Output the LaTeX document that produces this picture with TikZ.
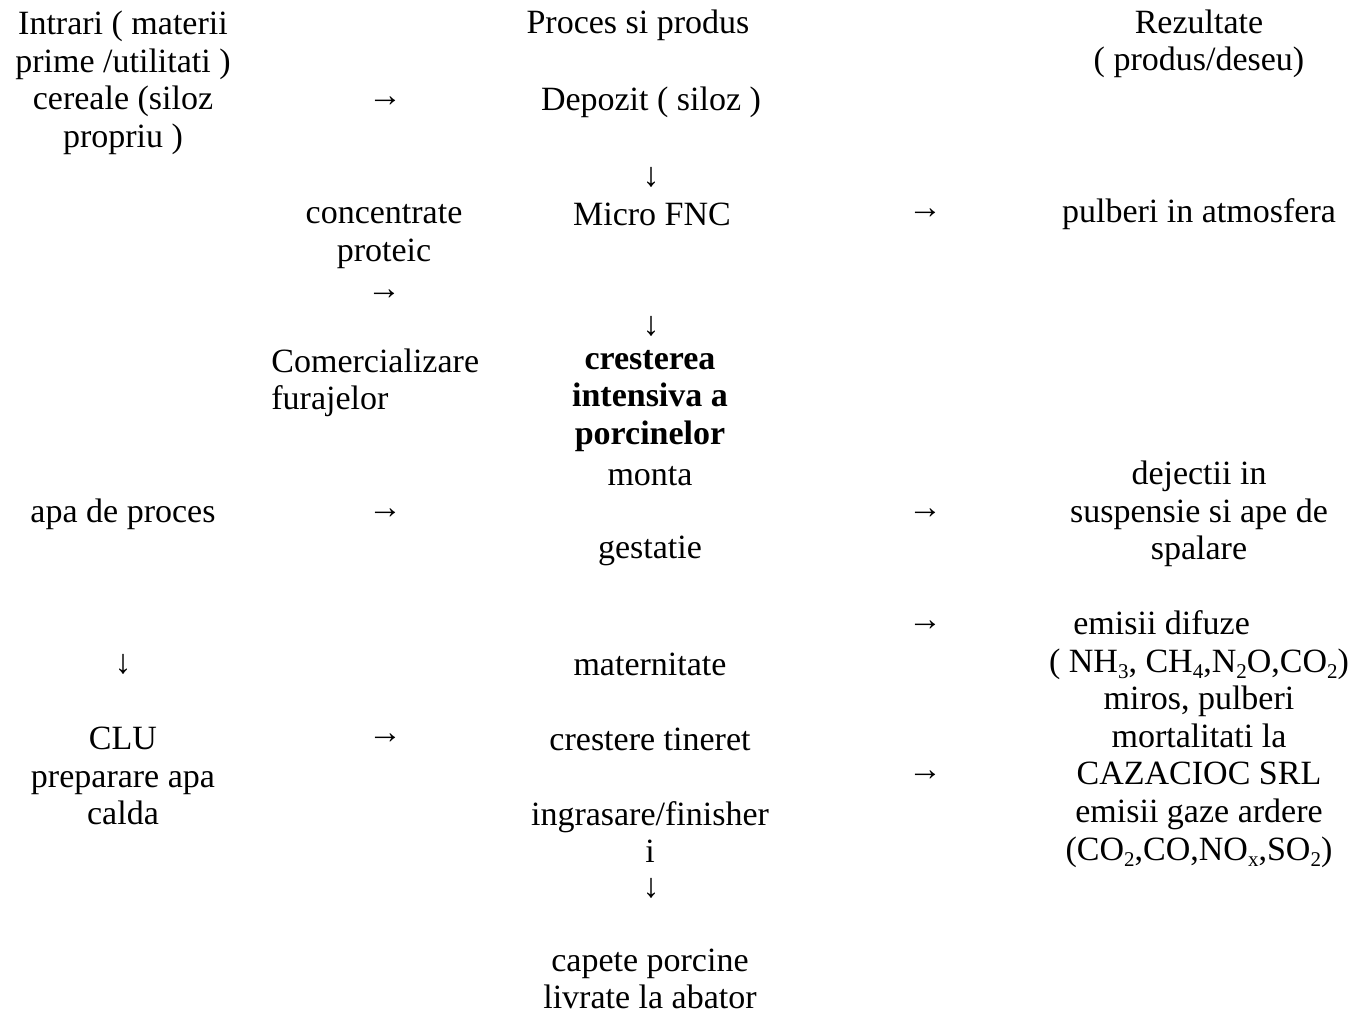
\documentclass[tikz,border=0pt]{standalone}
\usepackage{fontspec}
\setmainfont{Liberation Serif}
\newcommand\lo[1]{\raisebox{-0.4ex}{\fontsize{10.5}{10.5}\selectfont #1}}
\begin{document}
\begin{tikzpicture}[x = 0.5pt, y = -0.5pt, txt/.style = {align = center, inner sep = 0pt, yshift = -1.5pt, font = \fontsize{17}{18.8}\selectfont}, arr/.style = {inner sep = 0pt, yshift = -1.5pt, font = \fontsize{17}{18.8}\selectfont}]
\useasboundingbox (0,0) rectangle (1357,1009);
% intrari
\node[txt] (intrari) at (123,80) {Intrari ( materii\\prime /utilitati )\\cereale (siloz\\propriu )};
\node[txt] (apa) at (123,511) {apa de proces};
\node[arr] (d3) at (123,661) {↓};
\node[txt] (clu) at (123,773) {CLU\\preparare apa\\calda};
% sageti intrari
\node[arr] (r1) at (385,99) {→};
\node[txt] (conc) at (384,249) {concentrate\\proteic\\→};
\node[txt, align = left, anchor = west] (com) at (271,380) {Comercializare\\furajelor};
\node[arr] (r2) at (385,511) {→};
\node[arr] (r3) at (385,736) {→};
% proces
\node[txt] (proces) at (638,22) {Proces si produs};
\node[txt] (depozit) at (651,99) {Depozit ( siloz )};
\node[arr] (d1) at (651,174) {↓};
\node[txt] (micro) at (652,211) {Micro FNC};
\node[arr] (d2) at (651,323) {↓};
\node[txt, font = \fontsize{17}{18.8}\selectfont\bfseries] (crest) at (650,398) {cresterea\\intensiva a\\porcinelor};
\node[txt] (monta) at (650,473) {monta};
\node[txt] (gest) at (650,548) {gestatie};
\node[txt] (mat) at (650,661) {maternitate};
\node[txt] (tin) at (650,736) {crestere tineret};
\node[txt] (ingr) at (650,829) {ingrasare/finisher\\i};
\node[arr] (d4) at (651,885) {↓};
\node[txt] (capete) at (650,976) {capete porcine\\livrate la abator};
% sageti rezultate
\node[arr] (r4) at (925,211) {→};
\node[arr] (r5) at (925,511) {→};
\node[arr] (r6) at (925,623) {→};
\node[arr] (r7) at (925,773) {→};
% rezultate
\node[txt] (rez) at (1199,41) {Rezultate\\( produs/deseu)};
\node[txt] (pulb) at (1199,211) {pulberi in atmosfera};
\node[txt] (dej) at (1199,511) {dejectii in\\suspensie si ape de\\spalare};
\node[txt] (emis) at (1199,736) {emisii difuze\hspace*{2.2em}\\( NH\lo{3}, CH\lo{4},N\lo{2}O,CO\lo{2})\\miros, pulberi\\mortalitati la\\CAZACIOC SRL\\emisii gaze ardere\\(CO\lo{2},CO,NO\lo{x},SO\lo{2})};
\end{tikzpicture}
\end{document}
